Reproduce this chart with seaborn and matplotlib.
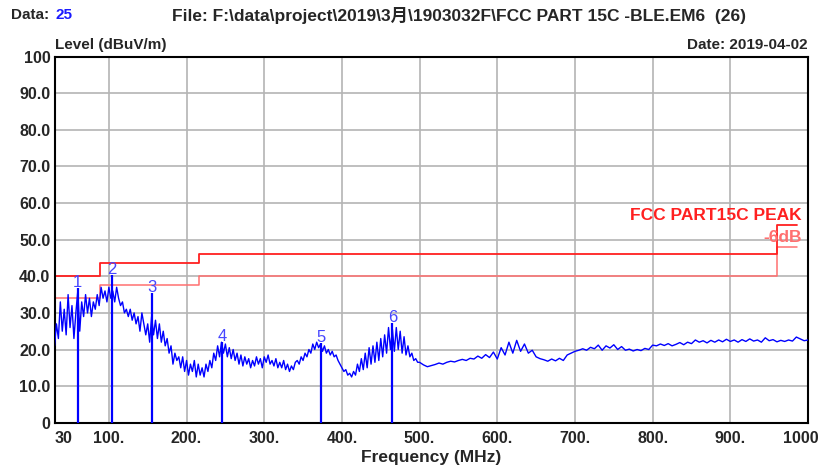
import numpy as np
import matplotlib
matplotlib.use("Agg")
import matplotlib.pyplot as plt
import matplotlib.transforms as mtransforms
import seaborn as sns

# trace, 30-500 MHz every 2.5 MHz
trace_low = [
    21, 27, 23, 33, 25, 31, 24, 35, 26, 32, 23, 30, 36, 25, 33, 29, 35, 30, 34, 29,
    33, 31, 35, 32, 37, 34, 36, 33,
    37, 34, 36, 33, 37, 34, 32, 33, 30, 31, 29, 31, 28, 30, 27, 29, 25, 30, 27, 24,
    27, 22, 29, 24, 28, 23, 27, 22, 25, 21, 23, 19, 21, 16, 19, 17, 18, 15, 18, 14,
    17, 13, 16, 14, 17, 12.5, 16, 13, 15, 12.5, 16, 14, 17, 15, 19, 17, 21, 18, 22, 19,
    21.5, 18, 20.5, 17.5, 20, 17, 19, 16, 18.5, 15.5, 18, 16, 17.5, 15, 17, 15.5, 18, 16, 17.5, 15,
    18, 16.5, 18.5, 16, 17, 15.5, 17.5, 15, 16.5, 15, 17, 14.5, 16, 14, 15.5, 14.5, 16.5, 17, 16, 18,
    17, 19, 18, 20, 19, 21.5, 20, 22, 20.5, 21.5, 19.5, 21, 19, 20, 18.5, 19.5, 18, 18.5, 17, 16,
    15, 14, 14.5, 13, 13.5, 12.5, 14, 13, 16, 14, 17.5, 14.5, 19, 15, 20.5, 16, 21, 16.5, 22, 17,
    23, 18, 24, 19, 26, 20, 25.5, 19.5, 26, 20, 25, 19, 23.5, 18.5, 21, 18, 19, 17, 17.5, 16.5,
    16.5,
]

# trace, 505-1000 MHz every 5 MHz
trace_high = [
    15.8, 15.3, 15.6, 15.9, 16.3, 16.0, 16.5, 16.8, 16.6, 17.0,
    17.3, 17.0, 17.6, 17.4, 18.2, 17.6, 18.6, 17.8, 19.3, 17.4,
    20.5, 18.5, 22.0, 19.0, 22.5, 19.5, 21.5, 19.0, 19.8, 18.0,
    17.5, 17.2, 16.8, 17.4, 16.9, 17.6, 17.0, 18.5, 19.0, 19.5,
    19.8, 20.2, 19.8, 20.6, 20.2, 21.2, 19.8, 21.0, 20.4, 21.3,
    20.0, 20.8, 19.8, 20.1, 19.6, 20.0, 19.7, 20.3, 20.0, 21.2,
    21.0, 21.5, 21.1, 21.6, 21.0, 21.4, 21.9, 21.3, 22.0, 21.6,
    22.6, 22.0, 22.4, 21.8, 22.5, 22.0, 22.6, 22.1, 22.8, 22.2,
    22.6, 22.0, 22.7, 22.2, 22.9, 22.3, 22.6, 22.0, 23.2, 22.4,
    22.7, 22.1, 22.5, 22.2, 22.6, 22.3, 23.4, 22.9, 22.4, 22.6,
]

freq = np.concatenate([30 + 2.5 * np.arange(len(trace_low)),
                       505 + 5 * np.arange(len(trace_high))])
level = np.array(trace_low + trace_high)

# limit lines
limit_freq = [30, 88, 216, 960, 986]
limit_peak = [40, 43.5, 46, 54, 54]
limit_6db = [34, 37.5, 40, 48, 48]

# markers
marker_freq = [59.9, 103.6, 155.9, 246.0, 373.0, 464.9]
marker_level = [36.8, 40.3, 35.5, 22.1, 21.8, 27.2]
marker_names = ["1", "2", "3", "4", "5", "6"]

x_ticks = [30, 100, 200, 300, 400, 500, 600, 700, 800, 900, 1000]
x_labels = ["30", "100.", "200.", "300.", "400.", "500.", "600.", "700.", "800.", "900.", "1000"]
y_ticks = [0, 10, 20, 30, 40, 50, 60, 70, 80, 90, 100]
y_labels = ["0", "10.0", "20.0", "30.0", "40.0", "50.0", "60.0", "70.0", "80.0", "90.0", "100"]

sns.set_style("white")
plt.rcParams['font.family'] = ['Liberation Sans', 'Noto Sans CJK SC', 'DejaVu Sans']

fig = plt.figure(figsize=(8.24, 4.65), dpi=100)
ax = fig.add_axes([54.5 / 824, 1 - 422.7 / 465, (808 - 54.5) / 824, (422.7 - 56.7) / 465])

ax.step(limit_freq, limit_6db, where='post', color='#ff7070', lw=1.1, zorder=2)
ax.step(limit_freq, limit_peak, where='post', color='#ff2020', lw=1.3, zorder=2)

sns.lineplot(x=freq, y=level, ax=ax, color='#0000ff', linewidth=1, estimator=None, zorder=3)

ax.vlines(marker_freq, 0, marker_level, color='#0000ff', lw=1.6, zorder=4)
for f, l, n in zip(marker_freq, marker_level, marker_names):
    ax.text(f, l - 0.6, n, color='#4646ff', fontsize=12, ha='center', va='bottom', zorder=5)

ax.text(992, 56.7, "FCC PART15C PEAK", color='#ff2020', fontsize=12.5, fontweight='bold',
        ha='right', va='center')
ax.text(992, 50.7, "-6dB", color='#ff7070', fontsize=12.5, fontweight='bold',
        ha='right', va='center')

ax.set_xlim(30, 1000)
ax.set_ylim(0, 100)
ax.set_xticks(x_ticks)
ax.set_xticklabels(x_labels)
ax.set_yticks(y_ticks)
ax.set_yticklabels(y_labels)
ax.tick_params(length=0, labelsize=11.5)
ax.tick_params(axis='x', pad=6)
ax.tick_params(axis='y', pad=3)
for lab in ax.get_xticklabels() + ax.get_yticklabels():
    lab.set_fontweight('bold')
ax.get_xticklabels()[0].set_horizontalalignment('left')
last = ax.get_xticklabels()[-1]
last.set_horizontalalignment('right')
last.set_transform(last.get_transform() + mtransforms.ScaledTranslation(0.11, 0, fig.dpi_scale_trans))
ax.grid(True, color='#b4b4b4', lw=1.2)
for sp in ax.spines.values():
    sp.set_color('black')
    sp.set_linewidth(1.5)
ax.set_xlabel("Frequency (MHz)", fontsize=12.5, fontweight='bold', labelpad=3)
ax.set_ylabel("")

fig.text(10.6 / 824, 1 - 15 / 465, "Data:", fontsize=11, fontweight='bold', va='center')
fig.text(55 / 824, 1 - 15 / 465, "25", fontsize=11, fontweight='bold', va='center', color='#1a1aff')
fig.text(172 / 824, 1 - 15 / 465, "File: F:\\data\\project\\2019\\3月\\1903032F\\FCC PART 15C -BLE.EM6  (26)",
         fontsize=12.5, fontweight='bold', va='center')
fig.text(55 / 824, 1 - 45 / 465, "Level (dBuV/m)", fontsize=11, fontweight='bold', va='center')
fig.text(808 / 824, 1 - 45 / 465, "Date: 2019-04-02", fontsize=11, fontweight='bold', va='center', ha='right')

fig.savefig("out.png", dpi=100)
